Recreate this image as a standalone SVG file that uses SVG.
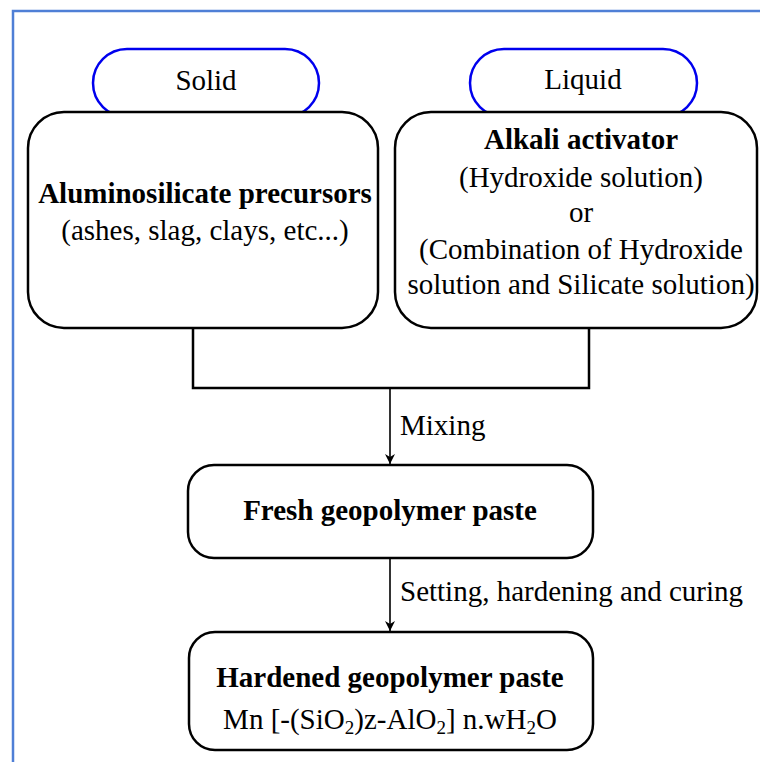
<svg xmlns="http://www.w3.org/2000/svg" width="760" height="762" viewBox="0 0 760 762">
<defs>
<style>
.frame{stroke:#4f7fd6;stroke-width:2.5;fill:none}
.pill{fill:#fff;stroke:#0000ee;stroke-width:2.5}
.box{fill:#fff;stroke:#000;stroke-width:2.5}
.t{font-family:"Liberation Serif","Times New Roman",serif;font-size:29px;fill:#000;text-anchor:middle}
.b{font-weight:bold}
.lbl{font-family:"Liberation Serif","Times New Roman",serif;font-size:29px;fill:#000}
.conn{stroke:#000;fill:none}
</style>
<marker id="arr" markerWidth="12" markerHeight="12" refX="10" refY="5" orient="auto" markerUnits="userSpaceOnUse">
<path d="M0,0 L10,5 L0,10 L3,5 Z" fill="#000"/>
</marker>
</defs>
<rect width="760" height="762" fill="#fff"/>
<path class="frame" d="M13,762 L13,11 L760,11"/>

<g id="solid">
<rect class="pill" x="93" y="49" width="226" height="68" rx="34"/>
<text class="t" x="206" y="90">Solid</text>
</g>
<g id="liquid">
<rect class="pill" x="470" y="49" width="227" height="68" rx="34"/>
<text class="t" x="583" y="89">Liquid</text>
</g>

<g id="precursors">
<rect class="box" x="28" y="112" width="350" height="216" rx="36"/>
<text class="t b" x="205" y="203">Aluminosilicate precursors</text>
<text class="t" x="205" y="240">(ashes, slag, clays, etc...)</text>
</g>

<g id="activator">
<rect class="box" x="395" y="112" width="362" height="216" rx="36"/>
<text class="t b" x="581" y="149">Alkali activator</text>
<text class="t" x="581" y="187">(Hydroxide solution)</text>
<text class="t" x="581" y="222">or</text>
<text class="t" x="581" y="259">(Combination of Hydroxide</text>
<text class="t" x="581" y="294">solution and Silicate solution)</text>
</g>

<g id="connectors">
<path class="conn" stroke-width="2.5" d="M193,328 L193,388 L589,388 L589,328"/>
<path class="conn" stroke-width="1.6" d="M390,388 L390,464" marker-end="url(#arr)"/>
<path class="conn" stroke-width="1.6" d="M390,558 L390,631" marker-end="url(#arr)"/>
<text class="lbl" x="400" y="435">Mixing</text>
<text class="lbl" x="400" y="601">Setting, hardening and curing</text>
</g>

<g id="fresh">
<rect class="box" x="188" y="465" width="405" height="93" rx="26"/>
<text class="t b" x="390" y="520">Fresh geopolymer paste</text>
</g>

<g id="hardened">
<rect class="box" x="189" y="632" width="404" height="118" rx="26"/>
<text class="t b" x="390" y="687">Hardened geopolymer paste</text>
<text class="t" x="390" y="729">Mn [-(SiO<tspan font-size="19" dy="5">2</tspan><tspan dy="-5">)z-AlO</tspan><tspan font-size="19" dy="5">2</tspan><tspan dy="-5">] n.wH</tspan><tspan font-size="19" dy="5">2</tspan><tspan dy="-5">O</tspan></text>
</g>
</svg>
